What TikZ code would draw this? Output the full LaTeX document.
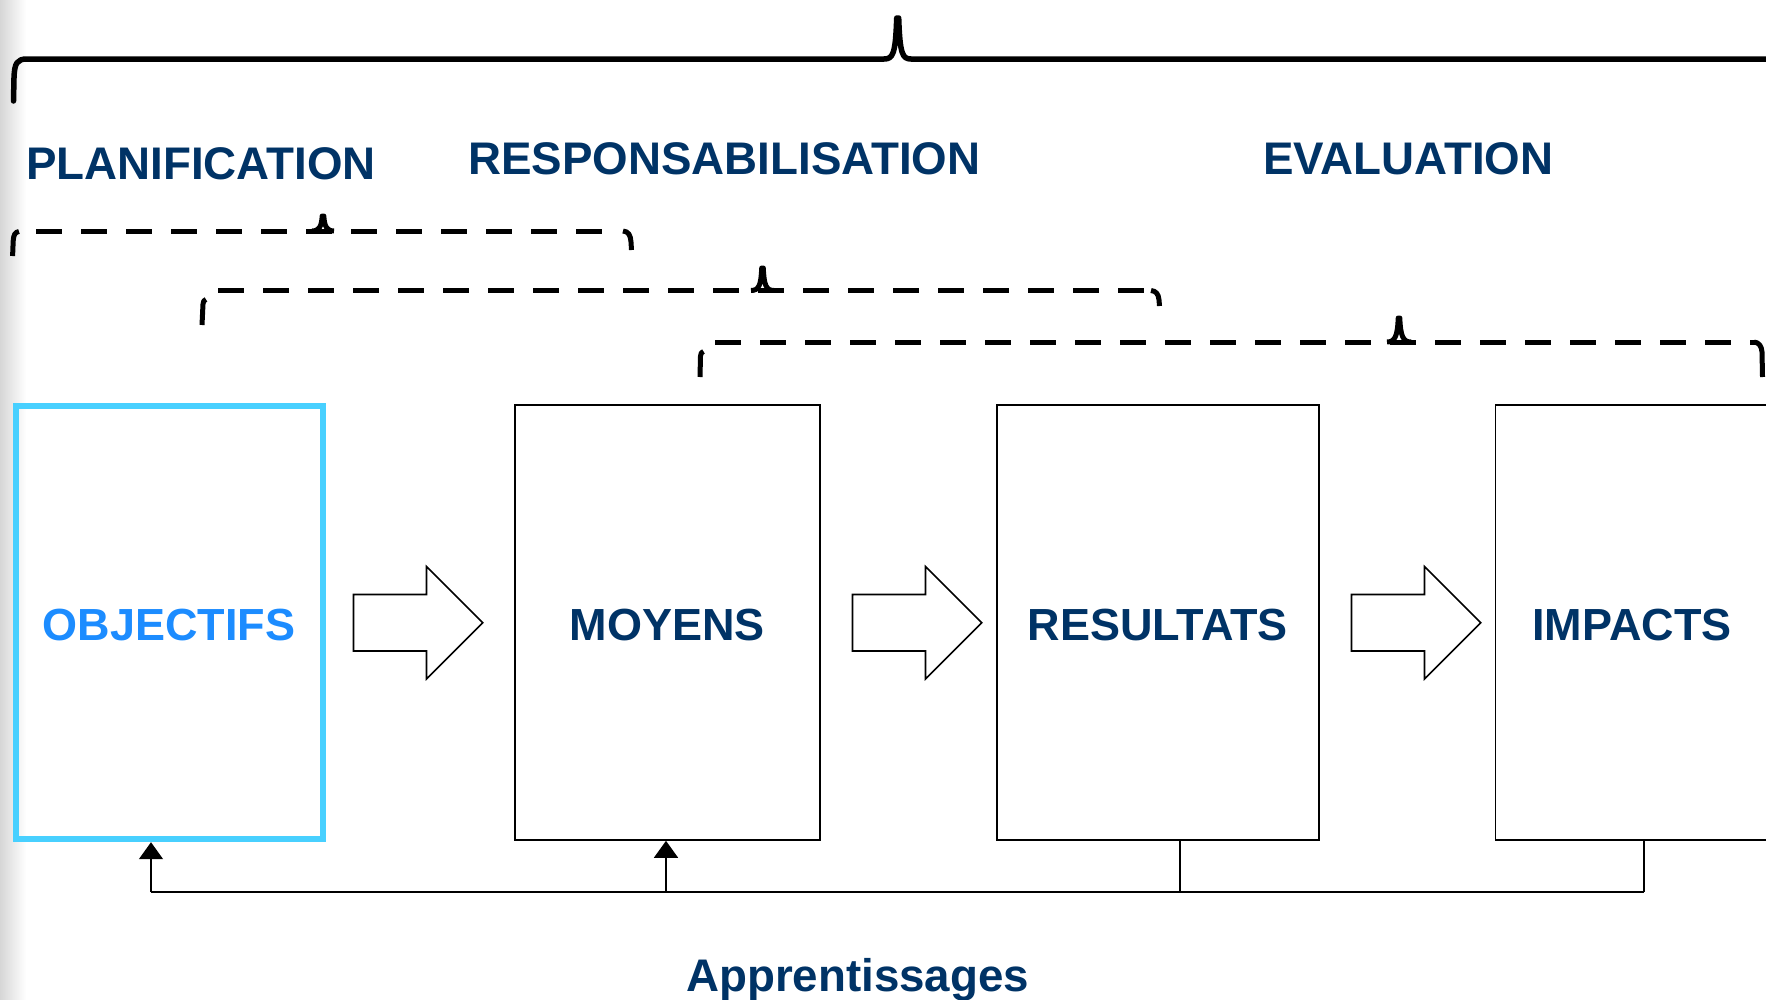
\documentclass[tikz,border=0pt]{standalone}
\usepackage{fontspec}
\setmainfont{Liberation Sans}
\usetikzlibrary{arrows.meta}
\definecolor{navy}{RGB}{0,51,102}
\definecolor{objblue}{RGB}{28,140,255}
\definecolor{cyanbox}{RGB}{72,208,255}
\begin{document}
\begin{tikzpicture}[x=1pt,y=-1pt,
  lab/.style={font=\bfseries\fontsize{45.7}{54}\selectfont, text=navy, inner sep=0pt},
  stage/.style={draw=black, line width=1.6pt, inner sep=0pt, text=navy,
    text height=36pt, text depth=0pt,
    font=\bfseries\fontsize{45}{54}\selectfont},
  brace/.style={line width=5.5pt, line cap=round, line join=round},
  dbrace/.style={line width=5pt, dash pattern=on 26pt off 19pt},
  bracend/.style={line width=5pt, line cap=butt, line join=round},
  barrow/.style={draw=black, line width=1.6pt, fill=white, line join=miter},
  conn/.style={line width=1.6pt},
  tipped/.style={-{Triangle[length=17pt,width=24pt]}}
]
\useasboundingbox (0,0) rectangle (1766,999);
\fill[white] (0,0) rectangle (1766,999);
\shade[left color=black!16, right color=white] (0,0) rectangle (26,999);

% top solid brace
\draw[brace] (13.5,101) -- (14,78) .. controls (14.5,63) and (17,59) .. (27,59)
  -- (884,59) .. controls (893,59) and (895.5,54) .. (896.7,18) -- (898.7,18)
  .. controls (899.9,54) and (902.4,59) .. (911,59) -- (1790,59);

% labels
\node[lab, anchor=base west] (plan) at (26,179.8) {PLANIFICATION};
\node[lab, anchor=base west] (resp) at (468,174.7) {RESPONSABILISATION};
\node[lab, anchor=base west] (eval) at (1263,174.7) {EVALUATION};

% dashed brace 1
\draw[dbrace] (36,231) -- (612,231);
\draw[bracend] (12.6,256) -- (13.2,241) .. controls (13.5,235) and (15,232) .. (19,231.5);
\draw[bracend] (623,231) .. controls (628.5,231.5) and (630.5,235) .. (631,242) -- (631.5,250);
\draw[bracend] (312,231) .. controls (319.5,231) and (321.5,226) .. (322.2,216) -- (323.8,216)
  .. controls (324.5,226) and (326.5,231) .. (334,231);

% dashed brace 2
\draw[dbrace] (218,290.5) -- (1150,290.5);
\draw[bracend] (202,325) -- (203,304) .. controls (203.3,301) and (204,300) .. (206,299.5);
\draw[bracend] (1151,290.5) .. controls (1156,291) and (1158.5,294) .. (1159,300) -- (1159.5,306);
\draw[bracend] (751,290.5) .. controls (759,290.5) and (761,285) .. (761.7,268) -- (763.3,268)
  .. controls (764,285) and (766,290.5) .. (774,290.5);

% dashed brace 3
\draw[dbrace] (715,342) -- (1755,342);
\draw[bracend] (700,377) -- (700.5,356) .. controls (700.8,353) and (701.5,352) .. (703.5,351.5);
\draw[bracend] (1754,342) .. controls (1759,342.5) and (1761.5,346) .. (1762,352) -- (1762.5,377);
\draw[bracend] (1387,342) .. controls (1395,342) and (1397.5,336) .. (1398.2,318) -- (1399.8,318)
  .. controls (1400.5,336) and (1403,342) .. (1411,342);

% stage boxes
\node[stage, draw=cyanbox, line width=6pt, text=objblue, minimum width=307pt, minimum height=433pt]
  (obj) at (169,622.7) {OBJECTIFS};
\node[stage, minimum width=305pt, minimum height=435pt] (moy) at (667.4,622.5) {MOYENS};
\node[stage, minimum width=322pt, minimum height=435pt] (res) at (1157.8,622.5) {RESULTATS};
\node[stage, minimum width=273pt, minimum height=435pt] (imp) at (1632,622.5) {IMPACTS};

% block arrows
\foreach \dx in {0,499,998}{
  \draw[barrow, xshift=\dx pt] (353.5,594.5) -- (426.5,594.5) -- (426.5,566.5) -- (482.7,622.7)
    -- (426.5,679) -- (426.5,651) -- (353.5,651) -- cycle;
}

% feedback connectors
\coordinate (c1) at (151,892);
\coordinate (c2) at (666,892);
\coordinate (c3) at (1180,892);
\coordinate (c4) at (1644,892);
\draw[conn] (c1) -- (c4);
\draw[conn, tipped] (c1) -- (c1 |- obj.south);
\draw[conn, tipped] (c2) -- (c2 |- moy.south);
\draw[conn] (res.south -| c3) -- (c3);
\draw[conn] (imp.south -| c4) -- (c4);

\node[lab, anchor=base west] (app) at (686,991) {Apprentissages};
\end{tikzpicture}
\end{document}
